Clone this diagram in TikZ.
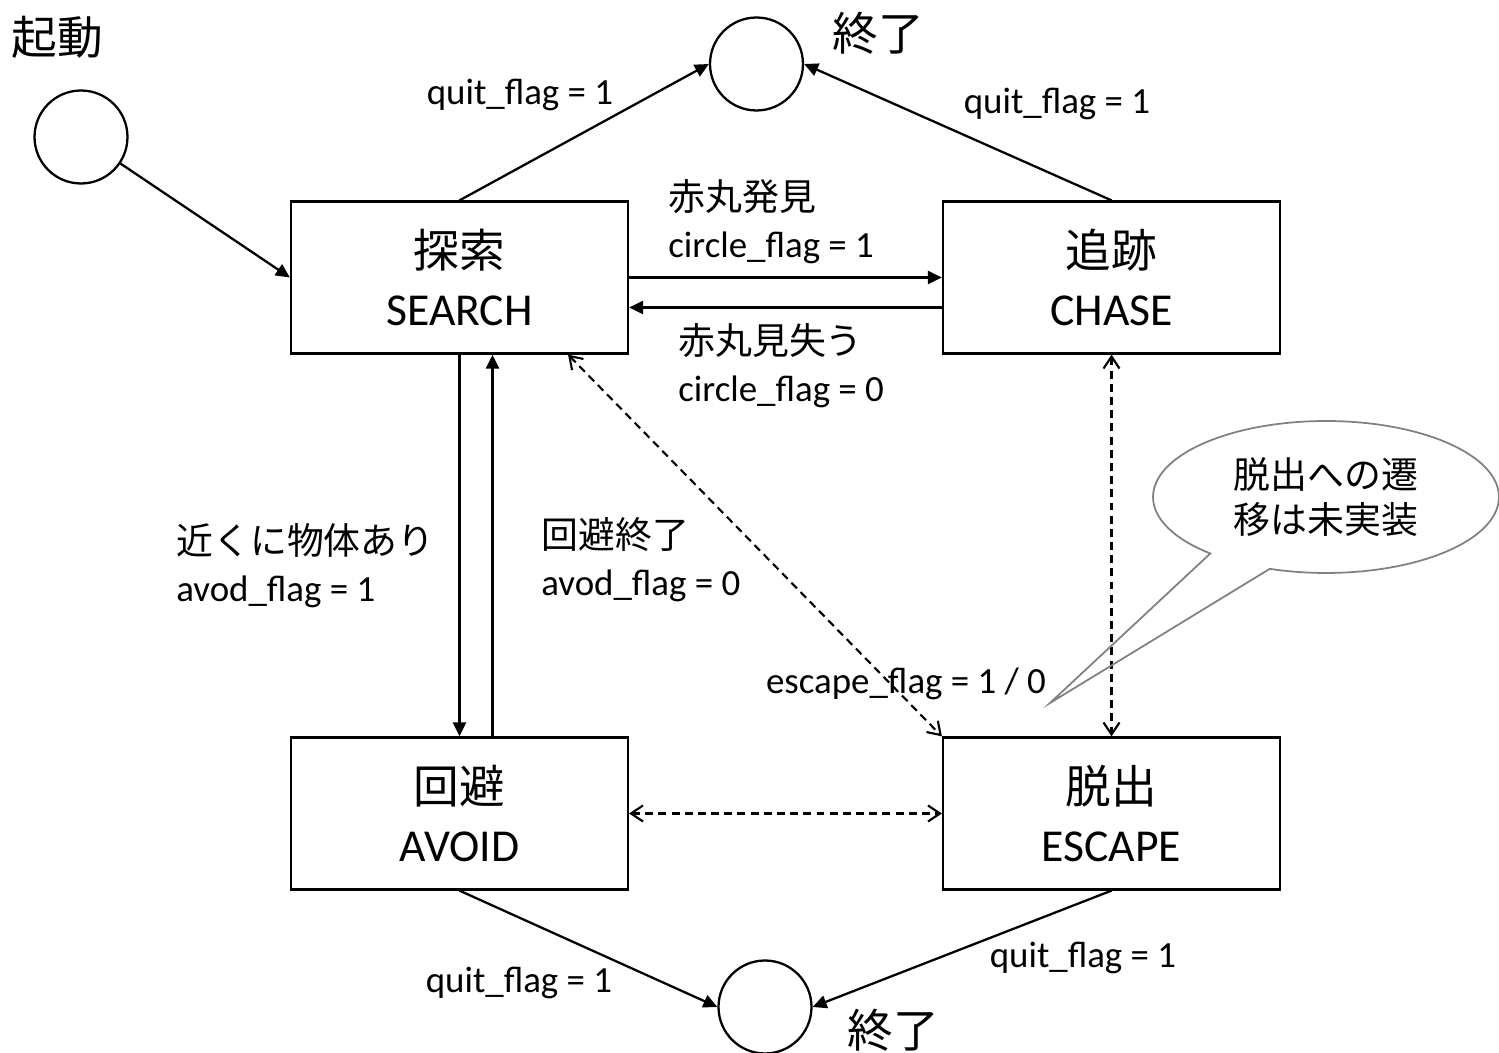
\documentclass[tikz,border=0pt]{standalone}
\usepackage{fontspec}
\setmainfont{Carlito}
\newfontfamily\jp{Noto Sans CJK JP}
\usetikzlibrary{arrows.meta, positioning, calc, shapes.geometric, shapes.callouts}
\definecolor{cNote}{RGB}{128,128,128}
\tikzset{
	statebox/.style={rectangle, draw=black, line width=1.3pt, minimum width=6.74cm, minimum height=3.04cm, align=center, font=\fontsize{26}{33}\selectfont},
	term/.style    ={circle, draw=black, line width=1.3pt, minimum size=1.86cm, inner sep=0pt},
	lbl/.style     ={align=left, inner sep=0pt, font=\fontsize{21}{26.7}\selectfont},
	big/.style     ={inner sep=0pt, font=\jp\fontsize{26}{30}\selectfont},
	% transitions
	trans/.style   ={-{Triangle[length=2.8mm, width=2.6mm]}, line width=1.3pt},
	optarrow/.style={{Straight Barb[length=2.4mm, width=3.2mm]}-{Straight Barb[length=2.4mm, width=3.2mm]}, dash pattern=on 4.5pt off 3pt, line width=1.2pt},
}
\begin{document}
\begin{tikzpicture}[x=0.02cm, y=-0.02cm]
	\useasboundingbox (0,0) rectangle (1499,1053);
	% states
	\node[statebox] (search) at (459.5,277.5) {{\jp 探索}\\SEARCH};
	\node[statebox] (chase)  at (1111.5,277.5) {{\jp 追跡}\\CHASE};
	\node[statebox] (avoid)  at (459.5,813.5) {{\jp 回避}\\AVOID};
	\node[statebox] (escape) at (1111.5,813.5) {{\jp 脱出}\\ESCAPE};
	% start / end points
	\node[term] (start)  at (81,137) {};
	\node[term] (endtop) at (756.5,64) {};
	\node[term] (endbot) at (765,1007) {};
	\node[big] (tstart)  at (57,37) {起動};
	\node[big] (tendtop) at (878,33) {終了};
	\node[big] (tendbot) at (893,1030) {終了};
	% transitions
	\draw[trans] (start) -- (search.west);
	\draw[trans] (search.north) -- (endtop.west);
	\draw[trans] (chase.north) -- (endtop.east);
	\draw[trans] (avoid.south) -- (endbot.west);
	\draw[trans] (escape.south) -- (endbot.east);
	\draw[trans] (search.east) -- (chase.west);
	\draw[trans] ($(chase.west)+(0,30)$) -- ($(search.east)+(0,30)$);
	\draw[trans] (search.south) -- (avoid.north);
	\draw[trans] ($(avoid.north)+(33,0)$) -- ($(search.south)+(33,0)$);
	\draw[optarrow] ($(search.south west)!0.82!(search.south east)$) -- (escape.north west);
	\draw[optarrow] (chase.south) -- (escape.north);
	\draw[optarrow] (avoid.east) -- (escape.west);
	% labels
	\node[lbl] (qsearch) at (520,95) {quit\_flag = 1};
	\node[lbl] (qchase)  at (1057,104) {quit\_flag = 1};
	\node[lbl] (qavoid)  at (519,983) {quit\_flag = 1};
	\node[lbl] (qescape) at (1083,958) {quit\_flag = 1};
	\node[lbl, anchor=west] (found) at (668,222) {{\jp 赤丸発見}\\circle\_flag = 1};
	\node[lbl, anchor=west] (lost)  at (678,366) {{\jp 赤丸見失う}\\circle\_flag = 0};
	\node[lbl, anchor=west] (near)  at (176,566) {{\jp 近くに物体あり}\\avod\_flag = 1};
	\node[lbl, anchor=west] (clear) at (541,560) {{\jp 回避終了}\\avod\_flag = 0};
	\node[lbl] (esc) at (906,684) {escape\_flag = 1 / 0};
	% note
	\node[ellipse callout, draw=cNote, line width=1pt, minimum width=6.92cm, minimum height=3.04cm,
		callout absolute pointer={(1050,703)}, callout pointer arc=23, align=center,
		font=\jp\fontsize{21}{25.6}\selectfont] (note) at (1326,497) {脱出への遷\\移は未実装};
\end{tikzpicture}
\end{document}
